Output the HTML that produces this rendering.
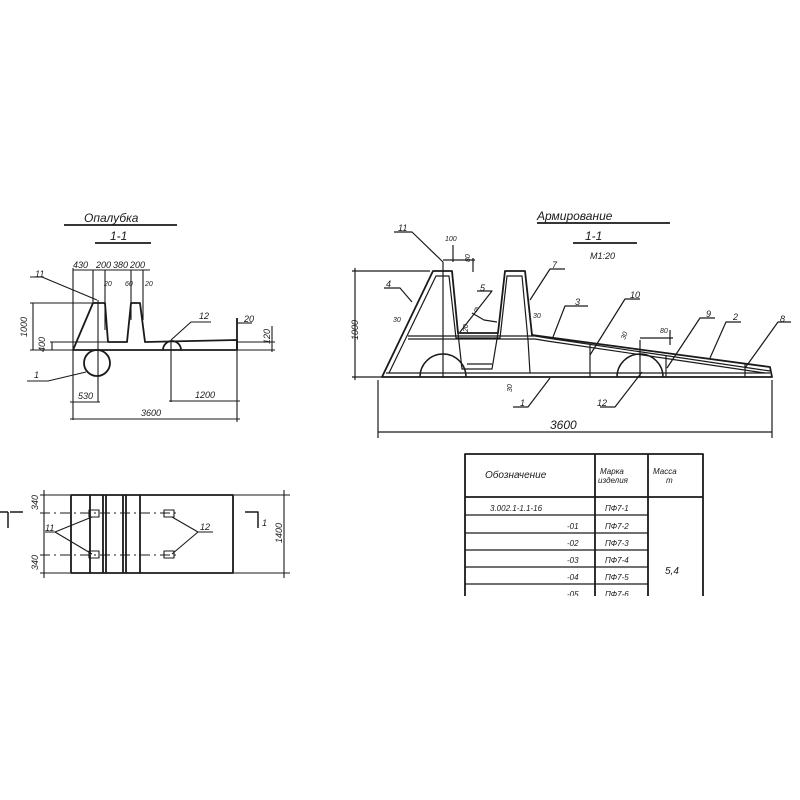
<!DOCTYPE html>
<html><head><meta charset="utf-8"><style>
html,body{margin:0;padding:0;background:#fff;}
svg{display:block}
text{font-family:"Liberation Sans",sans-serif;font-style:italic;fill:#1a1a1a;}
</style></head><body>
<svg width="800" height="800" viewBox="0 0 800 800" xmlns="http://www.w3.org/2000/svg">
<rect width="800" height="800" fill="#fff"/>
<g stroke="#1a1a1a" stroke-width="1.8" fill="none" stroke-linejoin="round">
<!-- LEFT: Opalubka -->
<line x1="64" y1="225" x2="177" y2="225"/>
<line x1="95" y1="243" x2="151" y2="243"/>
<path d="M73,350 L93,303 L105,303 L108,342 L127,342 L131,303 L140,303 L145,342 L237,340 L237,350 Z"/>
<circle cx="97" cy="363" r="13"/>
<path d="M163,350 A9,9 0 0 1 181,350"/>
<line x1="237" y1="350" x2="237" y2="318"/>
<g stroke-width="1.1">
<line x1="30" y1="303" x2="92" y2="303"/>
<line x1="33" y1="303" x2="33" y2="350"/>
<line x1="30" y1="350" x2="275" y2="350"/>
<line x1="50" y1="342" x2="107" y2="342"/>
<line x1="52" y1="342" x2="52" y2="350"/>
<line x1="73" y1="268" x2="73" y2="420"/>
<line x1="73" y1="270" x2="150" y2="270"/>
<line x1="93" y1="270" x2="93" y2="303"/>
<line x1="105" y1="270" x2="105" y2="330"/>
<line x1="131" y1="270" x2="131" y2="320"/>
<line x1="143" y1="270" x2="143" y2="320"/>
<line x1="98" y1="300" x2="98" y2="402"/>
<line x1="70" y1="402" x2="100" y2="402"/>
<line x1="70" y1="419" x2="240" y2="419"/>
<line x1="171" y1="340" x2="171" y2="402"/>
<line x1="169" y1="401" x2="240" y2="401"/>
<line x1="237" y1="350" x2="237" y2="422"/>
<line x1="237" y1="323" x2="252" y2="323"/>
<line x1="237" y1="342" x2="275" y2="342"/>
<line x1="272" y1="326" x2="272" y2="352"/>
<path d="M30,277 L42,277 L97,300"/>
<path d="M27,381 L48,381 L86,372"/>
<path d="M171,340 L191,322 L211,322"/>
</g>
<!-- Plan -->
<rect x="71" y="495" width="162" height="78"/>
<line x1="90" y1="495" x2="90" y2="573"/>
<line x1="103" y1="495" x2="103" y2="573"/>
<line x1="106" y1="495" x2="106" y2="573"/>
<line x1="123" y1="495" x2="123" y2="573"/>
<line x1="126" y1="495" x2="126" y2="573"/>
<line x1="140" y1="495" x2="140" y2="573"/>
<g stroke-width="1.1">
<line x1="40" y1="495" x2="70" y2="495"/>
<line x1="40" y1="513" x2="180" y2="513" stroke-dasharray="10,4,2,4"/>
<line x1="40" y1="555" x2="180" y2="555" stroke-dasharray="10,4,2,4"/>
<line x1="40" y1="573" x2="70" y2="573"/>
<line x1="44" y1="490" x2="44" y2="578"/>
<line x1="233" y1="495" x2="290" y2="495"/>
<line x1="233" y1="573" x2="290" y2="573"/>
<line x1="284" y1="490" x2="284" y2="578"/>
<rect x="89" y="510" width="10" height="7"/>
<rect x="89" y="551" width="10" height="7"/>
<rect x="164" y="510" width="10" height="7"/>
<rect x="164" y="551" width="10" height="7"/>
<path d="M45,532 L55,532 L92,517 M55,532 L92,554"/>
<path d="M213,532 L198,532 L172,517 M198,532 L172,554"/>
</g>
<path d="M0,512 L8,512 M8,512 L8,528 M10,512 L23,512" stroke-width="1.5"/>
<path d="M245,512 L258,512 L258,528" stroke-width="1.5"/>
<!-- RIGHT: Armirovanie -->
<line x1="537" y1="223" x2="670" y2="223"/>
<line x1="573" y1="243" x2="637" y2="243"/>
<path d="M382,377 L433,271 L452,271 L458,333 L498,333 L505,271 L525,271 L532,335 L770,367 L772,377 Z"/>
<g stroke-width="1.2">
<path d="M389,373 L436,276 L449,276 L456,338 L500,338 L507,276 L522,276 L528,340 L530,373"/>
<path d="M408,336 L535,336 L547,338 L770,371"/>
<path d="M408,339 L535,339 L547,341 L765,373"/>
<path d="M386,373 L770,373"/>
<path d="M458,333 L462,369 L492,369 L498,333"/>
<line x1="467" y1="364" x2="492" y2="364"/>
<line x1="443" y1="262" x2="443" y2="377"/>
<path d="M420,377 A23,23 0 0 1 466,377" stroke-width="1.5"/>
<path d="M617,377 A23,23 0 0 1 663,377" stroke-width="1.5"/>
<line x1="640" y1="340" x2="640" y2="377"/>
<line x1="590" y1="345" x2="590" y2="377"/>
<line x1="666" y1="355" x2="666" y2="377"/>
<line x1="745" y1="364" x2="745" y2="377"/>
<line x1="352" y1="271" x2="430" y2="271"/>
<line x1="355" y1="268" x2="355" y2="380"/>
<line x1="352" y1="377" x2="382" y2="377"/>
<line x1="378" y1="380" x2="378" y2="438"/>
<line x1="772" y1="380" x2="772" y2="438"/>
<line x1="378" y1="432" x2="772" y2="432"/>
<line x1="443" y1="260" x2="475" y2="260"/>
<line x1="453" y1="245" x2="453" y2="262"/>
<line x1="473" y1="258" x2="473" y2="272"/>
<line x1="640" y1="338" x2="673" y2="338"/>
<line x1="670" y1="330" x2="670" y2="345"/>
<path d="M394,232 L412,232 L443,262"/>
<path d="M384,288 L400,288 L412,302"/>
<path d="M477,291 L492,291 L460,332"/>
<path d="M472,313 L484,320 L497,322"/>
<path d="M565,269 L550,269 L530,300"/>
<path d="M588,306 L565,306 L553,337"/>
<path d="M640,299 L625,299 L590,355"/>
<path d="M715,318 L700,318 L667,368"/>
<path d="M741,322 L726,322 L710,358"/>
<path d="M791,322 L778,322 L745,368"/>
<path d="M513,407 L528,407 L550,378"/>
<path d="M600,407 L615,407 L642,372"/>
</g>
<!-- table -->
<rect x="465" y="454" width="238" height="160"/>
<line x1="595" y1="454" x2="595" y2="600"/>
<line x1="648" y1="454" x2="648" y2="600"/>
<line x1="465" y1="497" x2="703" y2="497"/>
<g stroke-width="1.3">
<line x1="465" y1="515" x2="648" y2="515"/>
<line x1="465" y1="533" x2="648" y2="533"/>
<line x1="465" y1="550" x2="648" y2="550"/>
<line x1="465" y1="567" x2="648" y2="567"/>
<line x1="465" y1="584" x2="648" y2="584"/>
</g>
</g>
<g font-size="9">
<text x="84" y="222" font-size="12">Опалубка</text>
<text x="110" y="240" font-size="12">1-1</text>
<text x="73" y="268">430</text><text x="96" y="268">200</text><text x="113" y="268">380</text><text x="130" y="268">200</text>
<text x="104" y="286" font-size="7">20</text><text x="125" y="286" font-size="7">60</text><text x="145" y="286" font-size="7">20</text>
<text x="35" y="277">11</text>
<text x="27" y="337" transform="rotate(-90 27 337)">1000</text>
<text x="45" y="352" transform="rotate(-90 45 352)">400</text>
<text x="34" y="378">1</text>
<text x="78" y="399">530</text>
<text x="195" y="398">1200</text>
<text x="141" y="416">3600</text>
<text x="199" y="319">12</text>
<text x="244" y="322">20</text>
<text x="270" y="344" transform="rotate(-90 270 344)">120</text>
<text x="38" y="510" transform="rotate(-90 38 510)">340</text>
<text x="38" y="570" transform="rotate(-90 38 570)">340</text>
<text x="45" y="531">11</text>
<text x="200" y="530">12</text>
<text x="282" y="543" transform="rotate(-90 282 543)">1400</text>
<text x="262" y="526">1</text>
<text x="537" y="220" font-size="12">Армирование</text>
<text x="585" y="240" font-size="12">1-1</text>
<text x="590" y="259">М1:20</text>
<text x="398" y="231">11</text>
<text x="445" y="241" font-size="7">100</text>
<text x="470" y="262" font-size="7" transform="rotate(-90 470 262)">80</text>
<text x="386" y="287">4</text>
<text x="393" y="322" font-size="7">30</text>
<text x="480" y="291">5</text>
<text x="474" y="312" font-size="7">6</text>
<text x="468" y="332" font-size="7" transform="rotate(-90 468 332)">20</text>
<text x="552" y="268">7</text>
<text x="533" y="318" font-size="7">30</text>
<text x="575" y="305">3</text>
<text x="630" y="298">10</text>
<text x="706" y="317">9</text>
<text x="733" y="320">2</text>
<text x="780" y="322">8</text>
<text x="625" y="340" font-size="7" transform="rotate(-70 625 340)">30</text>
<text x="660" y="333" font-size="7">80</text>
<text x="512" y="392" font-size="7" transform="rotate(-90 512 392)">30</text>
<text x="520" y="406">1</text>
<text x="597" y="406">12</text>
<text x="550" y="429" font-size="12">3600</text>
<text x="358" y="340" transform="rotate(-90 358 340)">1000</text>
<text x="485" y="478" font-size="10">Обозначение</text>
<text x="600" y="474" font-size="8">Марка</text><text x="598" y="483" font-size="8">изделия</text>
<text x="653" y="474" font-size="8">Масса</text><text x="666" y="483" font-size="8">т</text>
<text x="490" y="511" font-size="8">3.002.1-1.1-16</text>
<text x="567" y="529" font-size="8">-01</text>
<text x="567" y="546" font-size="8">-02</text>
<text x="567" y="563" font-size="8">-03</text>
<text x="567" y="580" font-size="8">-04</text>
<text x="567" y="597" font-size="8">-05</text>
<text x="605" y="511" font-size="8">ПФ7-1</text>
<text x="605" y="529" font-size="8">ПФ7-2</text>
<text x="605" y="546" font-size="8">ПФ7-3</text>
<text x="605" y="563" font-size="8">ПФ7-4</text>
<text x="605" y="580" font-size="8">ПФ7-5</text>
<text x="605" y="597" font-size="8">ПФ7-6</text>
<text x="665" y="574" font-size="10">5,4</text>
</g>
<rect x="455" y="596" width="270" height="30" fill="#fff"/>
</svg>
</body></html>
